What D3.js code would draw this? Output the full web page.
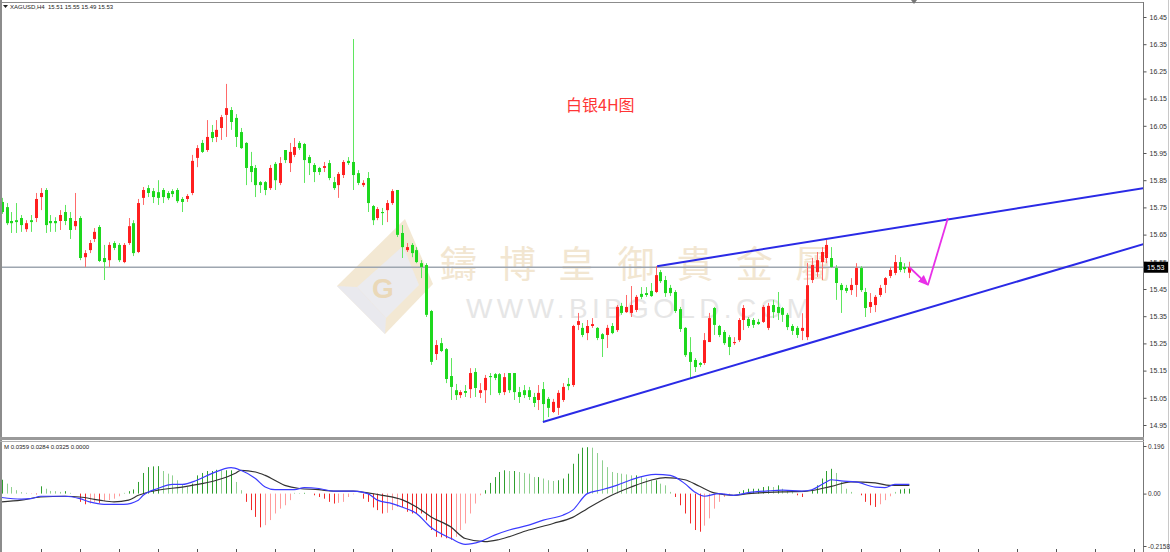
<!doctype html>
<html>
<head>
<meta charset="utf-8">
<script src="https://cdnjs.cloudflare.com/ajax/libs/d3/7.8.5/d3.min.js"></script>
<style>
  body { margin: 0; background: #fff; }
  svg { display: block; font-family: "Liberation Sans", Arial, sans-serif; }
</style>
</head>
<body>
<svg width="1170" height="552"></svg>
<script>
// XAGUSD H4 candles (bar 0 = leftmost)
var open = [15.770,15.751,15.700,15.703,15.711,15.670,15.703,15.711,15.788,15.814,15.700,15.700,15.700,15.733,15.711,15.681,15.711,15.567,15.593,15.634,
  15.678,15.564,15.556,15.619,15.612,15.549,15.619,15.692,15.586,15.785,15.821,15.810,15.806,15.814,15.803,15.810,15.814,15.781,15.781,15.803,
  15.932,15.987,15.961,16.027,16.009,16.042,16.090,16.108,16.079,16.027,15.987,15.902,15.895,15.843,15.843,15.821,15.910,15.840,15.961,15.913,
  15.943,15.987,15.983,15.935,15.906,15.895,15.895,15.913,15.843,15.832,15.869,15.921,15.917,15.876,15.832,15.858,15.755,15.711,15.733,15.740,
  15.766,15.814,15.656,15.593,15.612,15.593,15.545,15.538,15.369,15.211,15.251,15.229,15.130,15.078,15.060,15.075,15.082,15.145,15.068,15.078,
  15.130,15.137,15.137,15.071,15.141,15.141,15.071,15.078,15.078,15.053,15.042,15.082,15.046,14.998,15.013,15.042,15.101,15.097,15.318,15.307,
  15.288,15.314,15.307,15.284,15.281,15.314,15.299,15.388,15.365,15.362,15.373,15.432,15.435,15.443,15.439,15.512,15.483,15.454,15.439,15.376,
  15.307,15.218,15.189,15.178,15.178,15.255,15.380,15.314,15.292,15.273,15.251,15.262,15.336,15.340,15.336,15.329,15.329,15.307,15.391,15.384,
  15.380,15.355,15.314,15.307,15.296,15.273,15.483,15.512,15.549,15.564,15.564,15.527,15.465,15.454,15.446,15.465,15.527,15.439,15.384,15.391,
  15.428,15.465,15.498,15.509,15.549,15.531,15.51];
var high = [15.785,15.766,15.733,15.766,15.722,15.703,15.722,15.803,15.821,15.821,15.722,15.714,15.740,15.759,15.733,15.803,15.718,15.593,15.630,15.674,
  15.685,15.612,15.622,15.626,15.619,15.619,15.711,15.703,15.781,15.825,15.832,15.821,15.850,15.821,15.810,15.817,15.821,15.788,15.799,15.943,
  15.979,15.998,16.071,16.053,16.071,16.090,16.204,16.119,16.093,16.042,15.990,15.954,15.906,15.847,15.847,15.906,15.917,15.935,15.961,15.987,
  16.005,15.994,15.987,15.943,15.913,15.899,15.917,15.924,15.862,15.880,15.924,15.935,16.369,15.887,15.850,15.880,15.759,15.751,15.748,15.777,
  15.817,15.814,15.685,15.619,15.619,15.604,15.556,15.545,15.373,15.262,15.270,15.233,15.196,15.101,15.078,15.097,15.159,15.159,15.104,15.134,
  15.141,15.141,15.141,15.141,15.141,15.141,15.090,15.097,15.090,15.068,15.097,15.108,15.053,15.046,15.078,15.104,15.123,15.318,15.362,15.325,
  15.336,15.343,15.310,15.288,15.318,15.325,15.391,15.399,15.428,15.461,15.428,15.457,15.457,15.472,15.534,15.520,15.498,15.465,15.446,15.384,
  15.310,15.273,15.196,15.182,15.288,15.362,15.384,15.318,15.299,15.281,15.273,15.343,15.391,15.347,15.343,15.340,15.391,15.399,15.410,15.439,
  15.384,15.362,15.321,15.314,15.361,15.546,15.564,15.586,15.604,15.630,15.604,15.538,15.472,15.465,15.490,15.545,15.534,15.454,15.435,15.428,
  15.465,15.494,15.531,15.575,15.567,15.545,15.55];
var low = [15.726,15.685,15.656,15.656,15.660,15.660,15.660,15.696,15.740,15.656,15.660,15.660,15.667,15.685,15.634,15.667,15.556,15.531,15.582,15.623,
  15.549,15.483,15.531,15.593,15.549,15.545,15.612,15.571,15.582,15.759,15.788,15.766,15.759,15.766,15.777,15.788,15.766,15.733,15.770,15.795,
  15.898,15.950,15.954,15.990,15.990,15.998,16.009,16.035,15.972,15.965,15.832,15.843,15.788,15.803,15.795,15.814,15.814,15.832,15.913,15.880,
  15.935,15.961,15.840,15.869,15.843,15.869,15.880,15.850,15.814,15.785,15.858,15.906,15.814,15.832,15.825,15.733,15.685,15.703,15.685,15.696,
  15.759,15.641,15.564,15.586,15.567,15.545,15.490,15.347,15.171,15.189,15.218,15.104,15.042,15.042,15.049,15.053,15.049,15.053,15.049,15.031,
  15.060,15.115,15.060,15.060,15.068,15.042,15.031,15.049,15.042,15.016,15.005,14.961,14.979,14.994,14.987,15.035,15.078,15.090,15.299,15.273,
  15.262,15.307,15.262,15.200,15.233,15.284,15.292,15.355,15.362,15.347,15.365,15.413,15.421,15.421,15.435,15.472,15.421,15.424,15.362,15.292,
  15.200,15.122,15.145,15.163,15.171,15.255,15.281,15.273,15.244,15.207,15.244,15.255,15.299,15.307,15.307,15.318,15.325,15.299,15.343,15.336,
  15.329,15.299,15.281,15.270,15.262,15.262,15.472,15.494,15.483,15.545,15.527,15.410,15.362,15.435,15.428,15.421,15.439,15.347,15.362,15.365,
  15.421,15.435,15.490,15.501,15.512,15.509,15.49];
var close = [15.733,15.692,15.692,15.696,15.685,15.692,15.696,15.781,15.803,15.685,15.692,15.692,15.722,15.700,15.667,15.700,15.564,15.582,15.619,15.660,
  15.553,15.549,15.612,15.601,15.556,15.612,15.681,15.582,15.766,15.814,15.803,15.788,15.785,15.788,15.784,15.799,15.773,15.770,15.792,15.921,
  15.968,15.954,16.009,16.005,16.035,16.082,16.115,16.064,16.009,15.968,15.895,15.880,15.832,15.832,15.814,15.895,15.850,15.913,15.924,15.954,
  15.972,15.968,15.924,15.913,15.880,15.880,15.902,15.858,15.821,15.873,15.917,15.913,15.869,15.840,15.840,15.766,15.703,15.744,15.729,15.766,
  15.810,15.649,15.604,15.604,15.582,15.549,15.531,15.355,15.182,15.244,15.222,15.119,15.090,15.060,15.071,15.068,15.141,15.086,15.078,15.123,
  15.126,15.123,15.068,15.126,15.078,15.071,15.053,15.060,15.053,15.031,15.068,15.027,15.013,15.035,15.068,15.090,15.093,15.314,15.332,15.281,
  15.314,15.321,15.270,15.266,15.307,15.288,15.384,15.362,15.384,15.391,15.421,15.421,15.428,15.424,15.501,15.479,15.435,15.435,15.369,15.303,
  15.207,15.182,15.163,15.171,15.262,15.343,15.318,15.281,15.251,15.237,15.255,15.336,15.380,15.314,15.318,15.321,15.384,15.388,15.365,15.362,
  15.355,15.310,15.296,15.281,15.307,15.464,15.538,15.556,15.586,15.612,15.531,15.472,15.446,15.443,15.465,15.527,15.446,15.380,15.402,15.421,
  15.454,15.490,15.520,15.549,15.520,15.523,15.53];

// MACD histogram, one value per bar
var macdHist = [0.057,0.041,0.027,0.014,0.006,0.003,-0.002,-0.003,0.030,0.020,0.011,0.010,0.007,0.010,0.003,0.000,-0.034,-0.044,-0.041,-0.034,
  -0.038,-0.030,-0.027,-0.021,-0.011,0.003,0.010,0.017,0.048,0.085,0.109,0.112,0.113,0.093,0.082,0.075,0.055,0.038,0.027,0.041,
  0.075,0.085,0.093,0.093,0.098,0.096,0.096,0.096,0.048,0.014,-0.034,-0.068,-0.096,-0.139,-0.130,-0.109,-0.082,-0.062,-0.048,-0.027,
  0.003,0.002,0.003,0.000,-0.007,-0.014,-0.021,-0.034,-0.041,-0.038,-0.034,-0.014,-0.003,0.000,-0.021,-0.034,-0.057,-0.068,-0.082,-0.079,
  -0.068,-0.055,-0.055,-0.075,-0.082,-0.082,-0.082,-0.110,-0.150,-0.178,-0.180,-0.184,-0.190,-0.178,-0.150,-0.123,-0.082,-0.041,-0.007,0.014,
  0.044,0.068,0.089,0.096,0.093,0.093,0.089,0.085,0.082,0.068,0.068,0.062,0.055,0.052,0.055,0.062,0.082,0.123,0.164,0.189,
  0.191,0.189,0.167,0.137,0.109,0.089,0.085,0.082,0.079,0.075,0.075,0.068,0.062,0.055,0.055,0.041,0.034,0.007,-0.014,-0.048,
  -0.082,-0.123,-0.150,-0.157,-0.132,-0.102,-0.062,-0.034,-0.014,-0.007,0.000,0.007,0.014,0.020,0.020,0.020,0.027,0.030,0.027,0.034,
  0.020,0.014,0.007,-0.007,-0.014,0.000,0.014,0.034,0.062,0.093,0.102,0.085,0.048,0.020,0.007,0.000,-0.007,-0.034,-0.048,-0.055,
  -0.044,-0.027,-0.011,0.007,0.017,0.020,0.020];

// MACD main (blue) and signal (black), [bar, value]
var macdMain = [[0,-0.016],[4,-0.023],[6,-0.021],[8,-0.011],[13,-0.011],[16,-0.021],[18,-0.034],[21,-0.044],[25,-0.044],[28,-0.027],
  [29,-0.007],[32,0.021],[35,0.038],[37,0.038],[40,0.055],[43,0.082],[47,0.107],[49,0.096],[52,0.062],[54,0.027],[56,0.016],[60,0.016],
  [62,0.025],[65,0.021],[68,0.010],[72,0.010],[75,0.000],[77,-0.027],[80,-0.041],[82,-0.055],[85,-0.082],[88,-0.140],[92,-0.184],
  [95,-0.209],[98,-0.198],[101,-0.171],[104,-0.150],[108,-0.130],[111,-0.109],[115,-0.089],[117,-0.068],[120,0.000],[123,0.016],
  [126,0.034],[129,0.057],[134,0.079],[137,0.075],[140,0.041],[142,0.007],[144,-0.011],[147,0.000],[150,-0.007],[153,0.004],[157,0.011],
  [160,0.014],[164,0.010],[166,0.016],[169,0.048],[170,0.057],[172,0.052],[175,0.048],[179,0.027],[181,0.025],[183,0.038],[186,0.038]];
var macdSignal = [[0,-0.034],[4,-0.027],[8,-0.014],[13,-0.011],[16,-0.014],[20,-0.027],[23,-0.034],[26,-0.027],[28,-0.007],[32,0.014],
  [37,0.027],[41,0.041],[44,0.055],[48,0.085],[49,0.096],[52,0.089],[54,0.075],[58,0.034],[61,0.021],[65,0.016],[68,0.010],[72,0.010],
  [75,0.003],[78,-0.007],[82,-0.025],[85,-0.055],[88,-0.096],[92,-0.137],[95,-0.185],[99,-0.198],[102,-0.189],[108,-0.150],[113,-0.123],
  [117,-0.098],[120,-0.062],[125,-0.007],[129,0.027],[133,0.055],[136,0.066],[140,0.057],[143,0.030],[146,0.003],[150,-0.007],
  [153,0.000],[160,0.007],[165,0.010],[170,0.030],[174,0.048],[179,0.044],[182,0.034],[186,0.034]];

// drawn objects, [bar, price]
var upperTrend = [[134.3, 15.534], [234, 15.821]];
var lowerTrend = [[110.9, 14.961], [234, 15.615]];
var forecast = [[186, 15.530], [189.8, 15.465], [193.9, 15.711]];

var priceTicks = [14.95,15.05,15.15,15.25,15.35,15.45,15.55,15.65,15.75,15.85,15.95,16.05,16.15,16.25,16.35,16.45];
var macdTicks = [0.196, 0.00, -0.2158];
var macdTickLabels = ["0.196", "0.00", "-0.2158"];
var lastPrice = 15.53;
var header = "XAGUSD,H4  15.51 15.55 15.49 15.53";
var macdHeader = "M 0.0359 0.0284 0.0325 0.0000";

var svg = d3.select("svg");
var x = d3.scaleLinear().domain([0, 234]).range([1.7, 1143.6]);
var y = d3.scaleLinear().domain([14.95, 16.45]).range([425, 17]);
var ym = d3.scaleLinear().domain([-0.2158, 0.196]).range([546, 446]);

var upCol = "#ff1f1f", dnCol = "#1ed81e";

svg.append("defs").append("clipPath").attr("id", "mainClip")
  .append("rect").attr("x", 2).attr("y", 3).attr("width", 1141).attr("height", 434);
svg.select("defs").append("marker").attr("id", "arr")
    .attr("viewBox", "0 0 10 10").attr("refX", 9).attr("refY", 5)
    .attr("markerWidth", 6).attr("markerHeight", 6).attr("orient", "auto")
  .append("path").attr("d", "M0,1L10,5L0,9Z").attr("fill", "#e830e8");

// watermark
var wm = svg.append("g");
wm.append("polygon").attr("points", "405,219 433,284 385,334 337,286").attr("fill", "#f3e8d3");
wm.append("polygon").attr("points", "337,286 385,334 386,318 357,287").attr("fill", "#e9e9ee");
wm.append("polygon").attr("points", "403,246 419,285 386,318 357,287").attr("fill", "#ebebef");
wm.append("text").attr("x", 383).attr("y", 298).attr("text-anchor", "middle")
  .attr("font-size", 28).attr("font-weight", "bold").attr("fill", "#ead8b8").text("G");
wm.append("text").attr("x", 440).attr("y", 278).attr("textLength", 392).attr("lengthAdjust", "spacing")
  .style("font-family", "'Noto Sans CJK TC'").attr("font-size", 37).attr("fill", "#f2e6d1").text("鑄博皇御貴金屬");
wm.append("text").attr("x", 466).attr("y", 318).attr("textLength", 344).attr("lengthAdjust", "spacing")
  .attr("font-size", 28).attr("fill", "#e6e6e6").text("WWW.BIBGOLD.COM");

var main = svg.append("g").attr("clip-path", "url(#mainClip)");

main.append("line").attr("x1", 0).attr("x2", 1143).attr("y1", y(lastPrice)).attr("y2", y(lastPrice))
  .attr("stroke", "#9ea6b0").attr("stroke-width", 1.3);

var bars = main.selectAll("g.bar").data(close).enter().append("g");
bars.append("line")
  .attr("x1", (d, i) => Math.round(x(i)) + 0.5).attr("x2", (d, i) => Math.round(x(i)) + 0.5)
  .attr("y1", (d, i) => y(high[i])).attr("y2", (d, i) => y(low[i]))
  .attr("stroke", (d, i) => d >= open[i] ? "#ff6a6a" : "#5fe65f").attr("stroke-width", 1);
bars.append("rect")
  .attr("x", (d, i) => Math.round(x(i)) - 1)
  .attr("width", 3)
  .attr("y", (d, i) => y(Math.max(d, open[i])))
  .attr("height", (d, i) => Math.max(1, Math.abs(y(d) - y(open[i]))))
  .attr("fill", (d, i) => d >= open[i] ? upCol : dnCol);

var pline = d3.line().x(d => x(d[0])).y(d => y(d[1]));
main.append("path").attr("d", pline(upperTrend)).attr("stroke", "#2a2ae6").attr("stroke-width", 2).attr("fill", "none");
main.append("path").attr("d", pline(lowerTrend)).attr("stroke", "#2a2ae6").attr("stroke-width", 2).attr("fill", "none");
main.append("path").attr("d", pline(forecast.slice(0, 2))).attr("stroke", "#e830e8").attr("stroke-width", 1.8)
  .attr("fill", "none").attr("marker-end", "url(#arr)");
main.append("path").attr("d", pline(forecast.slice(1))).attr("stroke", "#e830e8").attr("stroke-width", 1.8).attr("fill", "none");

svg.append("text").attr("x", 566).attr("y", 111).style("font-family", "'Noto Sans CJK SC'")
  .attr("font-size", 16).attr("fill", "#ff3535").text("白银4H图");

// MACD panel
var hist = svg.append("g");
hist.selectAll("line").data(macdHist).enter().append("line")
  .attr("x1", (d, i) => Math.round(x(i)) + 0.5).attr("x2", (d, i) => Math.round(x(i)) + 0.5)
  .attr("y1", ym(0)).attr("y2", d => ym(d))
  .attr("stroke", (d, i) => {
    var rising = i === 0 || Math.abs(d) >= Math.abs(macdHist[i - 1]);
    if (d >= 0) return rising ? "#2f9f2f" : "#8fd08f";
    return rising ? "#f22a2a" : "#ff9c9c";
  });
var mline = d3.line().x(d => x(d[0])).y(d => ym(d[1])).curve(d3.curveMonotoneX);
svg.append("path").attr("d", mline(macdSignal)).attr("stroke", "#333").attr("stroke-width", 1.2).attr("fill", "none");
svg.append("path").attr("d", mline(macdMain)).attr("stroke", "#3b3bff").attr("stroke-width", 1.2).attr("fill", "none");

// frames
svg.append("line").attr("x1", 1).attr("x2", 1).attr("y1", 0).attr("y2", 552).attr("stroke", "#8c8c8c").attr("stroke-width", 2);
svg.append("line").attr("x1", 0).attr("x2", 1144).attr("y1", 2.5).attr("y2", 2.5).attr("stroke", "#8c8c8c");
svg.append("line").attr("x1", 1143.5).attr("x2", 1143.5).attr("y1", 2).attr("y2", 552).attr("stroke", "#777");
svg.append("line").attr("x1", 1168.5).attr("x2", 1168.5).attr("y1", 0).attr("y2", 552).attr("stroke", "#c8c8c8");
svg.append("rect").attr("x", 0).attr("y", 437).attr("width", 1144).attr("height", 3).attr("fill", "#9a9a9a");
svg.append("line").attr("x1", 0).attr("x2", 1144).attr("y1", 441.5).attr("y2", 441.5).attr("stroke", "#b0b0b0");
svg.append("path").attr("d", "M911,0L917,0L914,4Z").attr("fill", "#777");

// bottom time ticks every 8 bars
svg.append("g").selectAll("line").data(d3.range(8, 234, 8)).enter().append("line")
  .attr("x1", d => Math.round(x(d)) + 0.5).attr("x2", d => Math.round(x(d)) + 0.5)
  .attr("y1", 549).attr("y2", 552).attr("stroke", "#555");

// price axis
var pax = svg.append("g").attr("transform", "translate(1143.5,0)")
  .call(d3.axisRight(y).tickValues(priceTicks).tickSize(3).tickPadding(3).tickFormat(d => d.toFixed(2)));
pax.select(".domain").remove();
pax.selectAll("text").attr("font-size", 7).attr("fill", "#333").attr("font-family", "Liberation Sans");
pax.selectAll("line").attr("stroke", "#555");

var max = svg.append("g").attr("transform", "translate(1143.5,0)")
  .call(d3.axisRight(ym).tickValues(macdTicks).tickSize(3).tickPadding(1.5).tickFormat((d, i) => macdTickLabels[i]));
max.select(".domain").remove();
max.selectAll("text").attr("font-size", 6.5).attr("fill", "#333").attr("font-family", "Liberation Sans");
max.selectAll("line").attr("stroke", "#555");

// last price tag
svg.append("rect").attr("x", 1144).attr("y", y(lastPrice) - 5.5).attr("width", 24).attr("height", 11).attr("fill", "#000");
svg.append("text").attr("x", 1147).attr("y", y(lastPrice) + 2.5).attr("font-size", 7).attr("fill", "#fff").text(lastPrice.toFixed(2));

// headers
svg.append("path").attr("d", "M3,5L8,5L5.5,8Z").attr("fill", "#222");
svg.append("text").attr("x", 10).attr("y", 9).attr("font-size", 6).attr("fill", "#222").attr("xml:space", "preserve").text(header);
svg.append("text").attr("x", 4).attr("y", 449).attr("font-size", 6).attr("fill", "#222").text(macdHeader);
</script>
</body>
</html>
